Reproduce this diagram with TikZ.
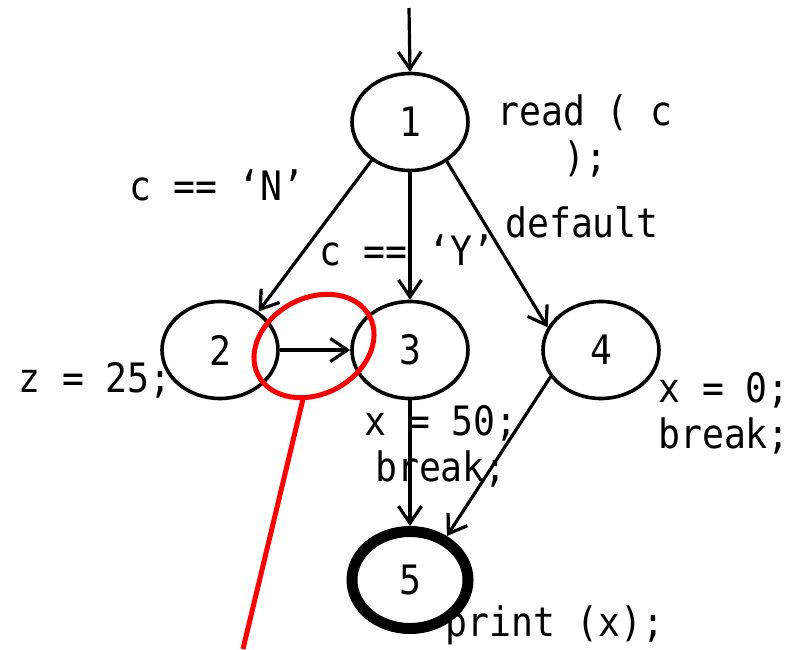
\documentclass[tikz,border=0pt]{standalone}
\usepackage{fontspec}
\usetikzlibrary{arrows.meta,shapes.geometric}
\newfontfamily\codefont[FakeStretch=0.9]{DejaVu Sans Mono}
\definecolor{ink}{HTML}{000000}
\definecolor{hilite}{HTML}{FF0000}
\newcommand{\code}{\codefont\fontsize{40.5}{46}\selectfont}

\begin{document}
\begin{tikzpicture}[x=1pt,y=1pt,font=\code,
  state/.style={ellipse,draw=ink,line width=3.6pt,minimum width=116pt,minimum height=97pt,inner sep=0},
  flow/.style={draw=ink,line width=3.2pt,-{Straight Barb[length=17pt,width=23pt]}},
  stmt/.style={inner sep=0,text=ink,align=center}]
\useasboundingbox (0,0) rectangle (794,649);
% blocks of the switch
\node[state] (n1) at (410,527) {1};
\node[state] (n2) at (220,299) {2};
\node[state] (n3) at (410,299) {3};
\node[state] (n4) at (601,299) {4};
\node[state,line width=11pt] (n5) at (410,69) {5};
% statements and conditions
\node[stmt] (read) at (585,513) {read ( c\\);};
\node[stmt] (caseN) at (217,464) {c == ‘N’};
\node[stmt] (caseY) at (407,399) {c == ‘Y’};
\node[stmt] (dflt) at (582,427) {default};
\node[stmt] (setz) at (95,269) {z = 25;};
\node[stmt] (setx50) at (441,203) {x = 50;\\break;};
\node[stmt,anchor=west,align=left] (setx0) at (658,236) {x = 0;\\break;};
\node[stmt] (prt) at (555,24) {print (x);};
% control flow
\coordinate (entry) at (409,641);
\draw[flow] (entry) -- (n1.north);
\draw[flow] (n1.225) -- (n2.45);
\draw[flow] (n1.south) -- (n3.north);
\draw[flow] (n1.313) -- (n4.157);
\draw[flow] (n2.east) -- (n3.west);
\draw[flow] (n3.south) -- (n5.north);
\draw[flow] (n4.208) -- (n5.50);
% highlight
\draw[hilite,line width=5pt,rotate around={28:(314,303)}] (314,303) ellipse (63 and 48);
\coordinate (pin) at (303,250);
\coordinate (tail) at (243,0);
\draw[hilite,line width=5pt] (pin) -- (tail);
\end{tikzpicture}
\end{document}
